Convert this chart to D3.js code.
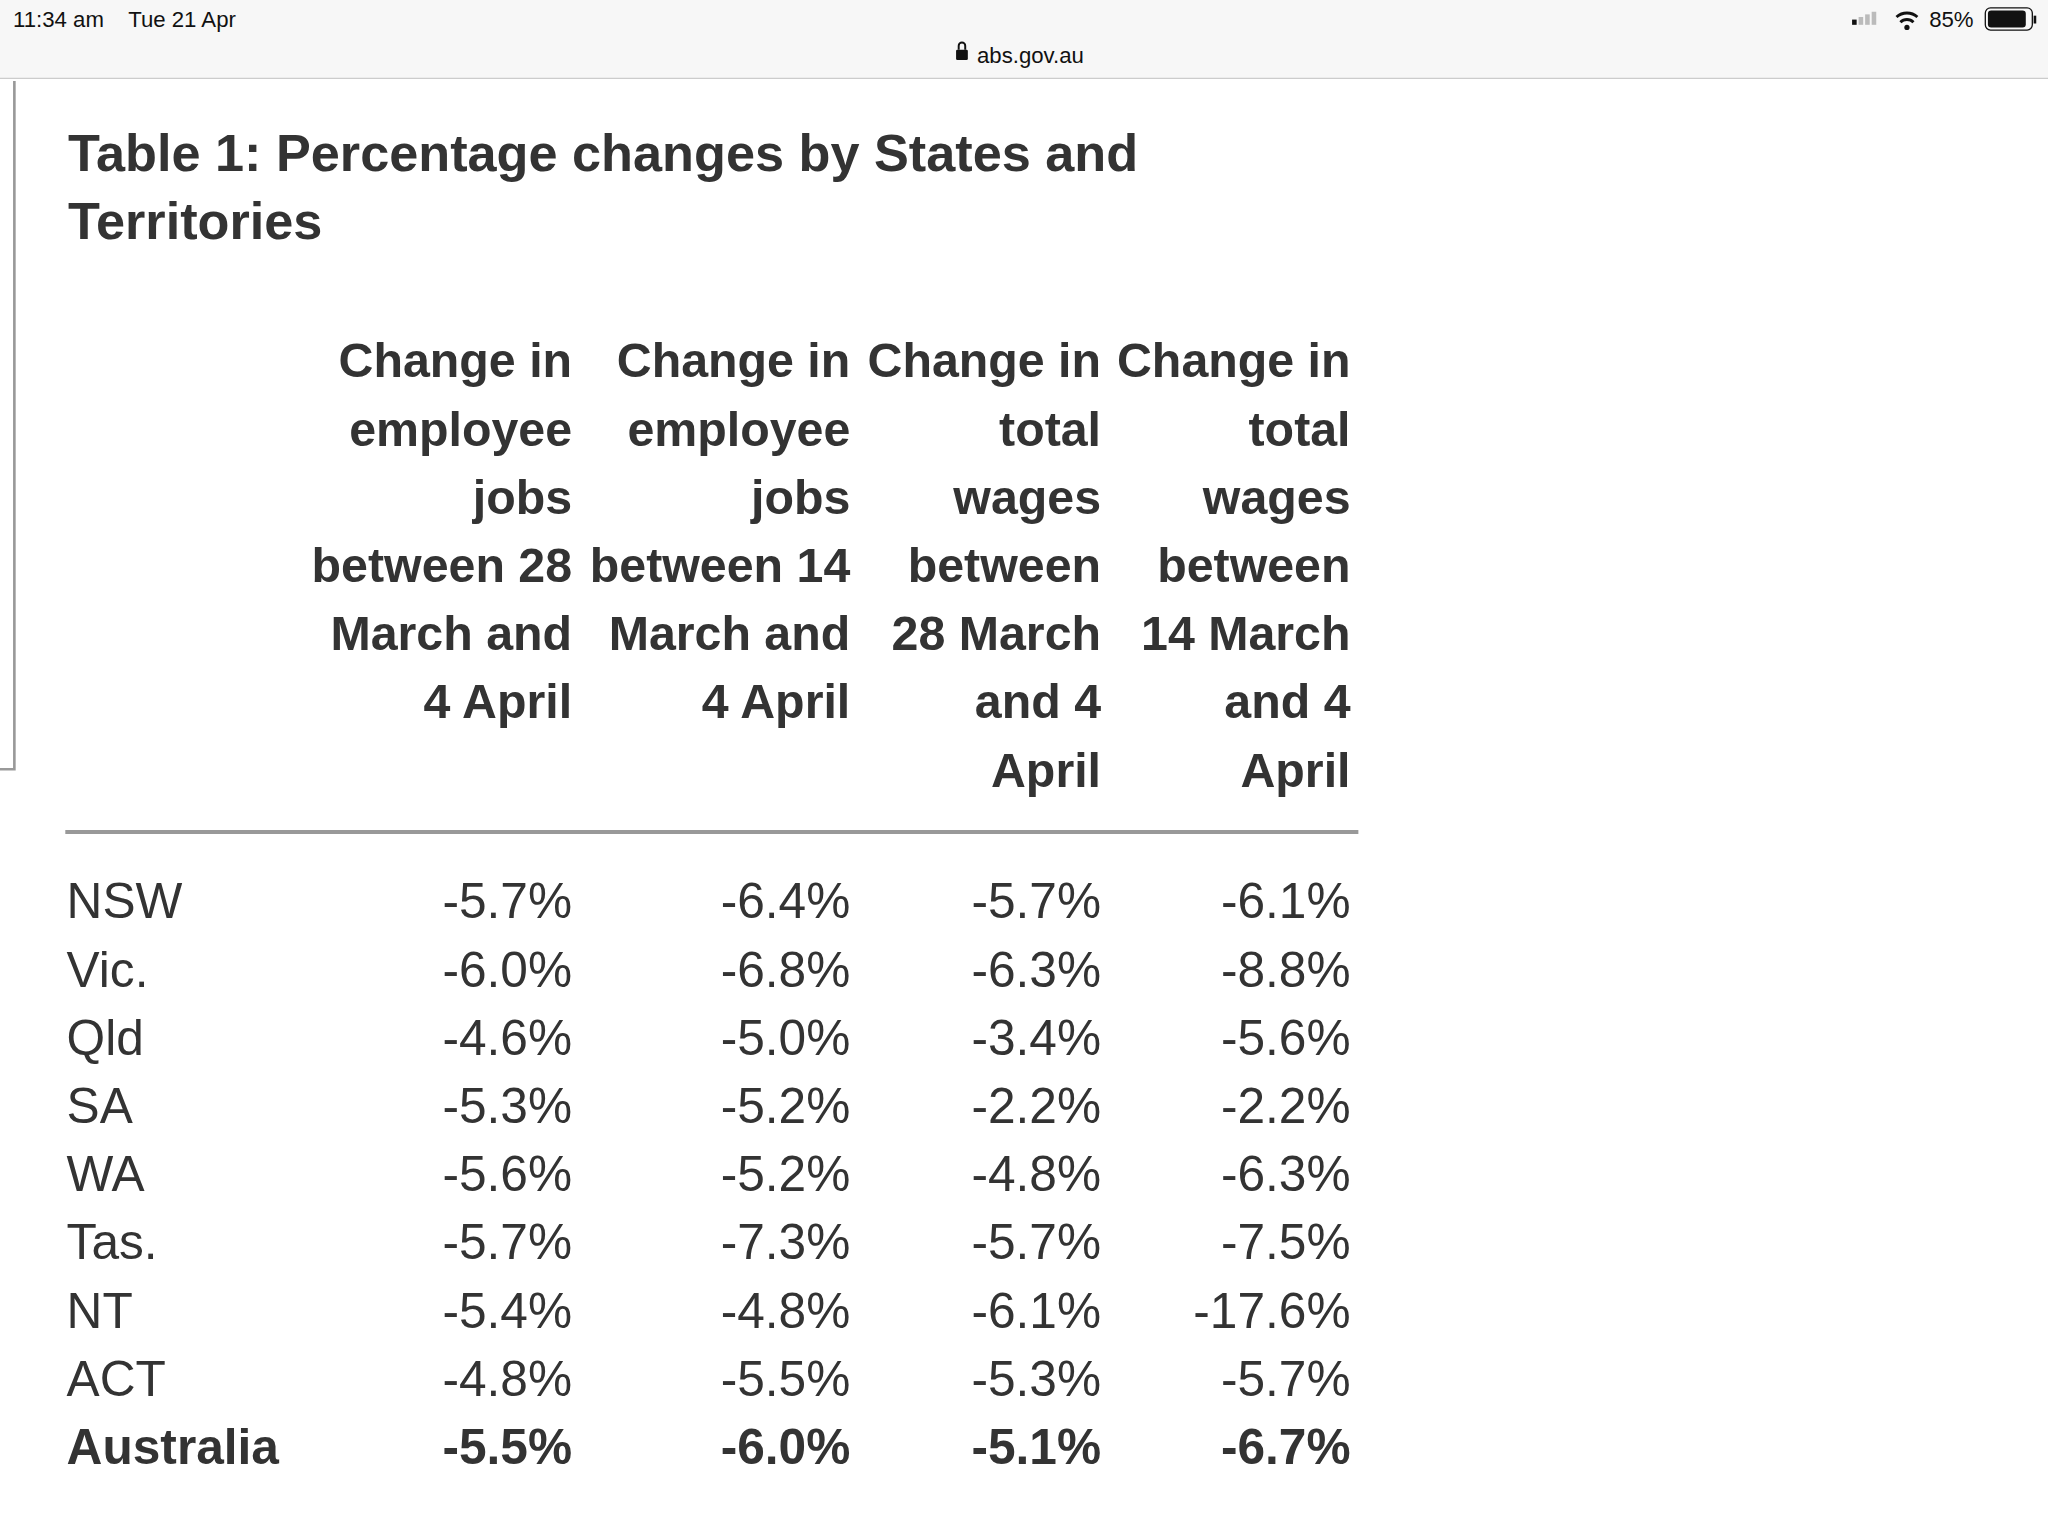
<!DOCTYPE html>
<html><head><meta charset="utf-8">
<script src="https://cdn.jsdelivr.net/npm/d3@7"></script>
<style>body{margin:0;background:#fff}svg{display:block}</style>
</head><body>
<script>
const states = ["NSW","Vic.","Qld","SA","WA","Tas.","NT","ACT","Australia"];
const jobs28 = [-5.7,-6.0,-4.6,-5.3,-5.6,-5.7,-5.4,-4.8,-5.5];
const jobs14 = [-6.4,-6.8,-5.0,-5.2,-5.2,-7.3,-4.8,-5.5,-6.0];
const wages28 = [-5.7,-6.3,-3.4,-2.2,-4.8,-5.7,-6.1,-5.3,-5.1];
const wages14 = [-6.1,-8.8,-5.6,-2.2,-6.3,-7.5,-17.6,-5.7,-6.7];
const headers = [
 ["Change in","employee","jobs","between 28","March and","4 April"],
 ["Change in","employee","jobs","between 14","March and","4 April"],
 ["Change in","total","wages","between","28 March","and 4","April"],
 ["Change in","total","wages","between","14 March","and 4","April"]
];
const series = [jobs28, jobs14, wages28, wages14];

const s = 2048/1568;
const W = 2048, H = 1536;
const svg = d3.select("body").append("svg").attr("width",W).attr("height",H);
const g = svg.append("g").attr("transform",`scale(${s})`);
const font = "'Liberation Sans', Arial, Helvetica, sans-serif";
const col = "#333";

// status bar
g.append("rect").attr("width",1568).attr("height",60).attr("fill","#f7f7f7");
g.append("line").attr("x1",0).attr("x2",1568).attr("y1",60).attr("y2",60).attr("stroke","#ccc");
g.append("text").attr("x",10).attr("y",21).attr("font-family",font).attr("font-size",17).attr("fill","#111").text("11:34 am    Tue 21 Apr").attr("xml:space","preserve");
g.append("text").attr("x",748).attr("y",48).attr("font-family",font).attr("font-size",17).attr("fill","#111").text("abs.gov.au");
g.append("rect").attr("x",732).attr("y",38).attr("width",9).attr("height",8).attr("rx",1).attr("fill","#111");
g.append("path").attr("d","M734,38 v-3 a2.5,2.5 0 0 1 5,0 v3").attr("fill","none").attr("stroke","#111").attr("stroke-width",1.5);
[0,1,2,3].forEach(i=>g.append("rect").attr("x",1418+i*5).attr("y",19-i*2-4).attr("width",3.5).attr("height",4+i*2).attr("fill",i<1?"#111":"#bbb"));
g.append("path").attr("d","M1452,13 a12,12 0 0 1 16,0 M1455,17 a7,7 0 0 1 10,0").attr("fill","none").attr("stroke","#111").attr("stroke-width",2.2);
g.append("circle").attr("cx",1460).attr("cy",21).attr("r",2).attr("fill","#111");
g.append("text").attr("x",1477).attr("y",21).attr("font-family",font).attr("font-size",17).attr("fill","#111").text("85%");
g.append("rect").attr("x",1520).attr("y",6).attr("width",36).attr("height",17).attr("rx",4).attr("fill","none").attr("stroke","#111");
g.append("rect").attr("x",1522).attr("y",8).attr("width",29).attr("height",13).attr("rx",2.5).attr("fill","#111");
g.append("rect").attr("x",1557).attr("y",12).attr("width",2).attr("height",6).attr("fill","#111");

// left frame
g.append("path").attr("d","M11,62 V589 H0").attr("fill","none").attr("stroke","#999").attr("stroke-width",2);

// title
const title = g.append("text").attr("font-family",font).attr("font-weight","bold").attr("font-size",40).attr("fill",col);
title.append("tspan").attr("x",52).attr("y",131).text("Table 1: Percentage changes by States and");
title.append("tspan").attr("x",52).attr("y",183).text("Territories");

// columns
const x = d3.scaleOrdinal().domain([0,1,2,3]).range([438,651,843,1034]);
const y = d3.scaleBand().domain(states).range([664,1134]);

headers.forEach((lines,i)=>{
  g.append("g").selectAll("text").data(lines).join("text")
   .attr("x",x(i)).attr("y",(d,j)=>289+j*52.2)
   .attr("text-anchor","end").attr("font-family",font).attr("font-weight","bold")
   .attr("font-size",37).attr("fill",col).text(d=>d);
});

g.append("line").attr("x1",50).attr("x2",1040).attr("y1",637).attr("y2",637).attr("stroke","#999").attr("stroke-width",3);

const rows = g.append("g").selectAll("g").data(states).join("g")
  .attr("transform",d=>`translate(0,${y(d)+y.bandwidth()/2+13})`);
rows.append("text").attr("x",51).attr("font-family",font).attr("font-size",38).attr("fill",col)
  .attr("font-weight",d=>d==="Australia"?"bold":"normal").text(d=>d);
series.forEach((arr,i)=>{
  rows.append("text").attr("x",x(i)).attr("text-anchor","end").attr("font-family",font).attr("font-size",38)
    .attr("fill",col).attr("font-weight",(d)=>d==="Australia"?"bold":"normal")
    .text((d,k)=>arr[k].toFixed(1)+"%");
});
</script>
</body></html>
